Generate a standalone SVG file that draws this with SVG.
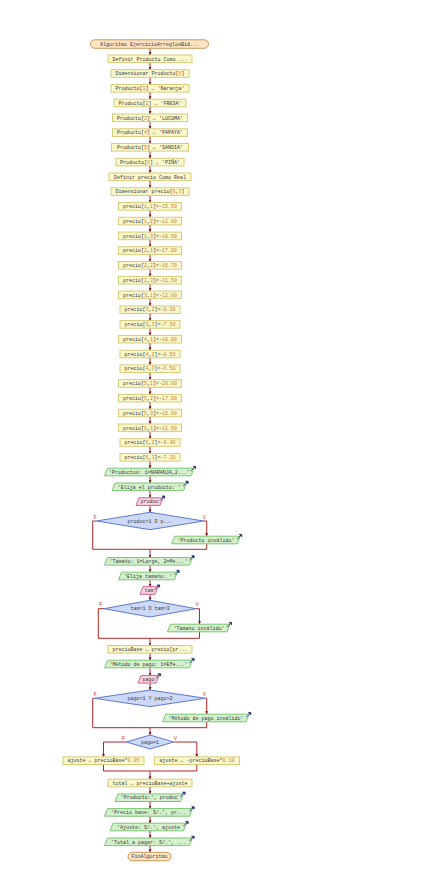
<svg xmlns="http://www.w3.org/2000/svg" width="447" height="888" viewBox="0 0 447 888">
<style>
  .bg { fill: #ffffff; }
  .asg rect { fill: #fbf8cc; stroke: #d6cb78; stroke-width: 1; }
  .out polygon.s { fill: #d5f0cd; stroke: #7dc476; stroke-width: 1; }
  .in polygon.s { fill: #f8d3e3; stroke: #cf6596; stroke-width: 1; }
  .dec polygon { fill: #cdd9f6; stroke: #5b7bcf; stroke-width: 1; }
  .term rect { fill: #fce4c4; stroke: #cf995a; stroke-width: 1; }
  .ico { fill: #1c2b6e; stroke: #1c2b6e; stroke-width: 0.8; }
  text { font-family: "Liberation Mono", "DejaVu Sans Mono", monospace; font-size: 5px; fill: #3a3a3a; text-anchor: middle; }
  .n { fill: #cf7a2a; }
  .lbl { font-family: "Liberation Sans", Arial, sans-serif; font-size: 4.5px; fill: #c02020; }
  #connectors path, #connectors line { stroke: #b32626; stroke-width: 1; fill: none; }
  .arr { marker-end: url(#ah); }
</style>
<defs>
  <marker id="ah" viewBox="0 0 6 6" refX="6" refY="3" markerWidth="3" markerHeight="3" orient="auto" markerUnits="userSpaceOnUse">
    <path d="M0,0 L6,3 L0,6 z" fill="#7a1a1a"/>
  </marker>
</defs>
<rect class="bg" x="0" y="0" width="447" height="888"/>

<!-- connectors -->
<g id="connectors">
  <line class="arr" x1="150" y1="48.3" x2="150" y2="55"/>
  <line class="arr" x1="150" y1="62.6" x2="150" y2="69.7"/>
  <line class="arr" x1="150" y1="77.3" x2="150" y2="84.5"/>
  <line class="arr" x1="150" y1="92.1" x2="150" y2="99.2"/>
  <line class="arr" x1="150" y1="106.8" x2="150" y2="114"/>
  <line class="arr" x1="150" y1="121.6" x2="150" y2="128.8"/>
  <line class="arr" x1="150" y1="136.4" x2="150" y2="143.5"/>
  <line class="arr" x1="150" y1="151.1" x2="150" y2="158.3"/>
  <line class="arr" x1="150" y1="165.9" x2="150" y2="173"/>
  <line class="arr" x1="150" y1="180.6" x2="150" y2="187.8"/>
  <line class="arr" x1="150" y1="195.4" x2="150" y2="202.6"/>
  <line class="arr" x1="150" y1="210.2" x2="150" y2="217.3"/>
  <line class="arr" x1="150" y1="224.9" x2="150" y2="232.1"/>
  <line class="arr" x1="150" y1="239.7" x2="150" y2="246.8"/>
  <line class="arr" x1="150" y1="254.4" x2="150" y2="261.6"/>
  <line class="arr" x1="150" y1="269.2" x2="150" y2="276.4"/>
  <line class="arr" x1="150" y1="284" x2="150" y2="291.1"/>
  <line class="arr" x1="150" y1="298.7" x2="150" y2="305.9"/>
  <line class="arr" x1="150" y1="313.5" x2="150" y2="320.6"/>
  <line class="arr" x1="150" y1="328.2" x2="150" y2="335.4"/>
  <line class="arr" x1="150" y1="343" x2="150" y2="350.2"/>
  <line class="arr" x1="150" y1="357.8" x2="150" y2="364.9"/>
  <line class="arr" x1="150" y1="372.5" x2="150" y2="379.7"/>
  <line class="arr" x1="150" y1="387.3" x2="150" y2="394.4"/>
  <line class="arr" x1="150" y1="402" x2="150" y2="409.2"/>
  <line class="arr" x1="150" y1="416.8" x2="150" y2="424"/>
  <line class="arr" x1="150" y1="431.6" x2="150" y2="438.7"/>
  <line class="arr" x1="150" y1="446.3" x2="150" y2="453.5"/>
  <line class="arr" x1="150" y1="461.1" x2="150" y2="468.2"/>
  <line class="arr" x1="150" y1="475.8" x2="150" y2="483"/>
  <line class="arr" x1="150" y1="490.6" x2="150" y2="497.8"/>
  <line class="arr" x1="150" y1="505.4" x2="150" y2="512.3"/>
  <!-- produc check -->
  <path d="M96.5,521 H92.7 V549.3 H206.7"/>
  <path class="arr" d="M203.5,521 H206.7 V536.2"/>
  <line x1="206.7" y1="543.8" x2="206.7" y2="549.3"/>
  <line class="arr" x1="150" y1="549.3" x2="150" y2="557.5"/>
  <line class="arr" x1="150" y1="565.1" x2="150" y2="572.2"/>
  <line class="arr" x1="150" y1="579.8" x2="150" y2="586.7"/>
  <line class="arr" x1="150" y1="594.3" x2="150" y2="600.3"/>
  <!-- tam check -->
  <path d="M104,608.7 H98.3 V638.3 H199.5"/>
  <path class="arr" d="M196,608.7 H199.5 V624.2"/>
  <line x1="199.5" y1="631.8" x2="199.5" y2="638.3"/>
  <line class="arr" x1="150" y1="638.3" x2="150" y2="645.5"/>
  <line class="arr" x1="150" y1="653.1" x2="150" y2="660.2"/>
  <line class="arr" x1="150" y1="667.8" x2="150" y2="675.5"/>
  <line class="arr" x1="150" y1="683.1" x2="150" y2="690"/>
  <!-- pago check -->
  <path d="M94.5,698.3 H92.7 V727.7 H206.7"/>
  <path class="arr" d="M205.5,698.3 H206.7 V714.2"/>
  <line x1="206.7" y1="721.8" x2="206.7" y2="727.7"/>
  <line class="arr" x1="150" y1="727.7" x2="150" y2="735"/>
  <!-- pago=1 -->
  <path class="arr" d="M126.5,742 H103.5 V756.9"/>
  <path class="arr" d="M173.5,742 H196.8 V756.9"/>
  <path d="M103.5,764.5 V771 H196.8 V764.5"/>
  <line class="arr" x1="150" y1="771" x2="150" y2="779.2"/>
  <line class="arr" x1="150" y1="786.8" x2="150" y2="793.9"/>
  <line class="arr" x1="150" y1="801.5" x2="150" y2="808.6"/>
  <line class="arr" x1="150" y1="816.2" x2="150" y2="823.2"/>
  <line class="arr" x1="150" y1="830.8" x2="150" y2="838"/>
  <line class="arr" x1="150" y1="845.6" x2="150" y2="852.3"/>
  <!-- branch labels -->
  <text class="lbl" x="95" y="518.5">F</text>
  <text class="lbl" x="204.3" y="518.5">V</text>
  <text class="lbl" x="100.6" y="606.2">F</text>
  <text class="lbl" x="197.2" y="606.2">V</text>
  <text class="lbl" x="95" y="695.8">F</text>
  <text class="lbl" x="204.3" y="695.8">V</text>
  <text class="lbl" x="123.3" y="739.5">F</text>
  <text class="lbl" x="175.6" y="739.5">V</text>
</g>

<!-- start -->
<g id="inicio" class="term">
  <rect x="90.5" y="39.8" width="118" height="8.5" rx="4.2"/>
  <text x="149.5" y="45.7">Algoritmo EjercicioArreglosBid...</text>
</g>

<g id="def_producto" class="asg"><rect x="108" y="55" width="84" height="7.6"/><text x="150" y="60.5">Definir Producto Como ...</text></g>
<g id="dim_producto" class="asg"><rect x="111" y="69.7" width="78" height="7.6"/><text x="150" y="75.2">Dimensionar Producto[<tspan class="n">6</tspan>]</text></g>
<g id="producto1" class="asg"><rect x="111" y="84.5" width="78" height="7.6"/><text x="150" y="90">Producto[<tspan class="n">1</tspan>] ← 'Naranja'</text></g>
<g id="producto2" class="asg"><rect x="114" y="99.2" width="72" height="7.6"/><text x="150" y="104.7">Producto[<tspan class="n">2</tspan>] ← 'FRESA'</text></g>
<g id="producto3" class="asg"><rect x="112.5" y="114" width="75" height="7.6"/><text x="150" y="119.5">Producto[<tspan class="n">3</tspan>] ← 'LUCUMA'</text></g>
<g id="producto4" class="asg"><rect x="112.5" y="128.8" width="75" height="7.6"/><text x="150" y="134.3">Producto[<tspan class="n">4</tspan>] ← 'PAPAYA'</text></g>
<g id="producto5" class="asg"><rect x="111.5" y="143.5" width="77" height="7.6"/><text x="150" y="149">Producto[<tspan class="n">5</tspan>] ← 'SANDIA'</text></g>
<g id="producto6" class="asg"><rect x="116" y="158.3" width="68" height="7.6"/><text x="150" y="163.8">Producto[<tspan class="n">6</tspan>] ← 'PIÑA'</text></g>
<g id="def_precio" class="asg"><rect x="109" y="173" width="82" height="7.6"/><text x="150" y="178.5">Definir precio Como Real</text></g>
<g id="dim_precio" class="asg"><rect x="111" y="187.8" width="78" height="7.6"/><text x="150" y="193.3">Dimensionar precio[<tspan class="n">6</tspan>,<tspan class="n">3</tspan>]</text></g>

<g id="p11" class="asg"><rect x="118.5" y="202.6" width="63" height="7.6"/><text x="150" y="208.1">precio[<tspan class="n">1</tspan>,<tspan class="n">1</tspan>]&lt;-<tspan class="n">15.50</tspan></text></g>
<g id="p12" class="asg"><rect x="118.5" y="217.3" width="63" height="7.6"/><text x="150" y="222.8">precio[<tspan class="n">1</tspan>,<tspan class="n">2</tspan>]&lt;-<tspan class="n">12.80</tspan></text></g>
<g id="p13" class="asg"><rect x="118.5" y="232.1" width="63" height="7.6"/><text x="150" y="237.6">precio[<tspan class="n">1</tspan>,<tspan class="n">3</tspan>]&lt;-<tspan class="n">10.50</tspan></text></g>
<g id="p21" class="asg"><rect x="118.5" y="246.8" width="63" height="7.6"/><text x="150" y="252.3">precio[<tspan class="n">2</tspan>,<tspan class="n">1</tspan>]&lt;-<tspan class="n">17.00</tspan></text></g>
<g id="p22" class="asg"><rect x="118.5" y="261.6" width="63" height="7.6"/><text x="150" y="267.1">precio[<tspan class="n">2</tspan>,<tspan class="n">2</tspan>]&lt;-<tspan class="n">15.70</tspan></text></g>
<g id="p23" class="asg"><rect x="118.5" y="276.4" width="63" height="7.6"/><text x="150" y="281.9">precio[<tspan class="n">2</tspan>,<tspan class="n">3</tspan>]&lt;-<tspan class="n">11.50</tspan></text></g>
<g id="p31" class="asg"><rect x="118.5" y="291.1" width="63" height="7.6"/><text x="150" y="296.6">precio[<tspan class="n">3</tspan>,<tspan class="n">1</tspan>]&lt;-<tspan class="n">12.00</tspan></text></g>
<g id="p32" class="asg"><rect x="120" y="305.9" width="60" height="7.6"/><text x="150" y="311.4">precio[<tspan class="n">3</tspan>,<tspan class="n">2</tspan>]&lt;-<tspan class="n">9.30</tspan></text></g>
<g id="p33" class="asg"><rect x="120" y="320.6" width="60" height="7.6"/><text x="150" y="326.1">precio[<tspan class="n">3</tspan>,<tspan class="n">3</tspan>]&lt;-<tspan class="n">7.50</tspan></text></g>
<g id="p41" class="asg"><rect x="118.5" y="335.4" width="63" height="7.6"/><text x="150" y="340.9">precio[<tspan class="n">4</tspan>,<tspan class="n">1</tspan>]&lt;-<tspan class="n">10.00</tspan></text></g>
<g id="p42" class="asg"><rect x="120" y="350.2" width="60" height="7.6"/><text x="150" y="355.7">precio[<tspan class="n">4</tspan>,<tspan class="n">2</tspan>]&lt;-<tspan class="n">8.50</tspan></text></g>
<g id="p43" class="asg"><rect x="120" y="364.9" width="60" height="7.6"/><text x="150" y="370.4">precio[<tspan class="n">4</tspan>,<tspan class="n">3</tspan>]&lt;-<tspan class="n">6.50</tspan></text></g>
<g id="p51" class="asg"><rect x="118.5" y="379.7" width="63" height="7.6"/><text x="150" y="385.2">precio[<tspan class="n">5</tspan>,<tspan class="n">1</tspan>]&lt;-<tspan class="n">20.00</tspan></text></g>
<g id="p52" class="asg"><rect x="118.5" y="394.4" width="63" height="7.6"/><text x="150" y="399.9">precio[<tspan class="n">5</tspan>,<tspan class="n">2</tspan>]&lt;-<tspan class="n">17.00</tspan></text></g>
<g id="p53" class="asg"><rect x="118.5" y="409.2" width="63" height="7.6"/><text x="150" y="414.7">precio[<tspan class="n">5</tspan>,<tspan class="n">3</tspan>]&lt;-<tspan class="n">15.00</tspan></text></g>
<g id="p61" class="asg"><rect x="118.5" y="424" width="63" height="7.6"/><text x="150" y="429.5">precio[<tspan class="n">6</tspan>,<tspan class="n">1</tspan>]&lt;-<tspan class="n">11.50</tspan></text></g>
<g id="p62" class="asg"><rect x="120" y="438.7" width="60" height="7.6"/><text x="150" y="444.2">precio[<tspan class="n">6</tspan>,<tspan class="n">2</tspan>]&lt;-<tspan class="n">9.40</tspan></text></g>
<g id="p63" class="asg"><rect x="120" y="453.5" width="60" height="7.6"/><text x="150" y="459">precio[<tspan class="n">6</tspan>,<tspan class="n">3</tspan>]&lt;-<tspan class="n">7.20</tspan></text></g>

<g id="out_productos" class="out">
  <polygon class="s" points="107.5,468.2 194,468.2 191,475.8 104.5,475.8"/>
  <path class="ico" d="M190.8,471.2 L194.6,467.4 M193.2,466.4 L195.6,466.4 L195.6,468.8 z"/>
  <text x="149.3" y="473.7">'Productos: 1=NARANJA,2...'</text>
</g>
<g id="out_elija" class="out">
  <polygon class="s" points="115,483 186.5,483 183.5,490.6 112,490.6"/>
  <path class="ico" d="M183.3,486 L187.1,482.2 M185.7,481.2 L188.1,481.2 L188.1,483.6 z"/>
  <text x="149.3" y="488.5">'Elija el producto: '</text>
</g>
<g id="in_produc" class="in">
  <polygon class="s" points="139,497.8 163,497.8 160,505.4 136,505.4"/>
  <path class="ico" d="M159.8,500.8 L163.6,497 M162.2,496 L164.6,496 L164.6,498.4 z"/>
  <text x="149.5" y="503.3">produc</text>
</g>
<g id="si_produc" class="dec">
  <polygon points="96.5,521 150,512.3 203.5,521 150,529.7"/>
  <text x="150" y="522.7">produc&lt;1 O p...</text>
</g>
<g id="out_prod_invalido" class="out">
  <polygon class="s" points="174.7,536.2 240.2,536.2 237.2,543.8 171.7,543.8"/>
  <path class="ico" d="M237,539.2 L240.8,535.4 M239.4,534.4 L241.8,534.4 L241.8,536.8 z"/>
  <text x="206" y="541.7">'Producto inválido'</text>
</g>
<g id="out_tamano" class="out">
  <polygon class="s" points="107.5,557.5 192.5,557.5 189.5,565.1 104.5,565.1"/>
  <path class="ico" d="M189.3,560.5 L193.1,556.7 M191.7,555.7 L194.1,555.7 L194.1,558.1 z"/>
  <text x="148.5" y="563">'Tamaño: 1=Large, 2=Me...'</text>
</g>
<g id="out_elija_tam" class="out">
  <polygon class="s" points="121.5,572.2 177.5,572.2 174.5,579.8 118.5,579.8"/>
  <path class="ico" d="M174.3,575.2 L178.1,571.4 M176.7,570.4 L179.1,570.4 L179.1,572.8 z"/>
  <text x="148" y="577.7">'Elija tamaño: '</text>
</g>
<g id="in_tam" class="in">
  <polygon class="s" points="143,586.7 158,586.7 155,594.3 140,594.3"/>
  <path class="ico" d="M154.8,589.7 L158.6,585.9 M157.2,584.9 L159.6,584.9 L159.6,587.3 z"/>
  <text x="149" y="592.2">tam</text>
</g>
<g id="si_tam" class="dec">
  <polygon points="104,608.7 150,600.3 196,608.7 150,617"/>
  <text x="150" y="610.4">tam&lt;1 O tam&gt;3</text>
</g>
<g id="out_tam_invalido" class="out">
  <polygon class="s" points="170.5,624.2 230,624.2 227,631.8 167.5,631.8"/>
  <path class="ico" d="M226.8,627.2 L230.6,623.4 M229.2,622.4 L231.6,622.4 L231.6,624.8 z"/>
  <text x="199" y="629.7">'Tamaño inválido'</text>
</g>
<g id="asg_preciobase" class="asg"><rect x="108" y="645.5" width="84" height="7.6"/><text x="150" y="651">precioBase ← precio[pr...</text></g>
<g id="out_metodo" class="out">
  <polygon class="s" points="107.5,660.2 192.5,660.2 189.5,667.8 104.5,667.8"/>
  <path class="ico" d="M189.3,663.2 L193.1,659.4 M191.7,658.4 L194.1,658.4 L194.1,660.8 z"/>
  <text x="148.5" y="665.7">'Método de pago: 1=Efe...'</text>
</g>
<g id="in_pago" class="in">
  <polygon class="s" points="141,675.5 159,675.5 156,683.1 138,683.1"/>
  <path class="ico" d="M155.8,678.5 L159.6,674.7 M158.2,673.7 L160.6,673.7 L160.6,676.1 z"/>
  <text x="148.5" y="681">pago</text>
</g>
<g id="si_pago" class="dec">
  <polygon points="94.5,698.3 150,690 205.5,698.3 150,706.6"/>
  <text x="150" y="700">pago&lt;1 Y pago&gt;2</text>
</g>
<g id="out_pago_invalido" class="out">
  <polygon class="s" points="165.7,714.2 249.2,714.2 246.2,721.8 162.7,721.8"/>
  <path class="ico" d="M246,717.2 L249.8,713.4 M248.4,712.4 L250.8,712.4 L250.8,714.8 z"/>
  <text x="206" y="719.7">'Método de pago inválido'</text>
</g>
<g id="si_pago1" class="dec">
  <polygon points="126.5,742 150,735 173.5,742 150,749"/>
  <text x="150" y="743.7">pago=1</text>
</g>
<g id="asg_ajuste_f" class="asg"><rect x="63" y="756.9" width="81" height="7.6"/><text x="103.5" y="762.4">ajuste ← precioBase*<tspan class="n">0.05</tspan></text></g>
<g id="asg_ajuste_v" class="asg"><rect x="154.5" y="756.9" width="85" height="7.6"/><text x="197" y="762.4">ajuste ← -precioBase*<tspan class="n">0.10</tspan></text></g>
<g id="asg_total" class="asg"><rect x="108" y="779.2" width="84" height="7.6"/><text x="150" y="784.7">total ← precioBase+ajuste</text></g>
<g id="out_producto" class="out">
  <polygon class="s" points="118,793.9 183.5,793.9 180.5,801.5 115,801.5"/>
  <path class="ico" d="M180.3,796.9 L184.1,793.1 M182.7,792.1 L185.1,792.1 L185.1,794.5 z"/>
  <text x="149.3" y="799.4">'Producto:', produc</text>
</g>
<g id="out_preciobase" class="out">
  <polygon class="s" points="107.5,808.6 192.5,808.6 189.5,816.2 104.5,816.2"/>
  <path class="ico" d="M189.3,811.6 L193.1,807.8 M191.7,806.8 L194.1,806.8 L194.1,809.2 z"/>
  <text x="148.5" y="814.1">'Precio base: S/.', pr...</text>
</g>
<g id="out_ajuste" class="out">
  <polygon class="s" points="113,823.2 186.5,823.2 183.5,830.8 110,830.8"/>
  <path class="ico" d="M183.3,826.2 L187.1,822.4 M185.7,821.4 L188.1,821.4 L188.1,823.8 z"/>
  <text x="148.5" y="828.7">'Ajuste: S/.', ajuste</text>
</g>
<g id="out_total" class="out">
  <polygon class="s" points="107.5,838 192.5,838 189.5,845.6 104.5,845.6"/>
  <path class="ico" d="M189.3,841 L193.1,837.2 M191.7,836.2 L194.1,836.2 L194.1,838.6 z"/>
  <text x="148.5" y="843.5">'Total a pagar: S/.', ...</text>
</g>

<!-- end -->
<g id="fin" class="term">
  <rect x="128" y="852.3" width="43" height="8.4" rx="4.2"/>
  <text x="149.5" y="858.2">FinAlgoritmo</text>
</g>
</svg>
